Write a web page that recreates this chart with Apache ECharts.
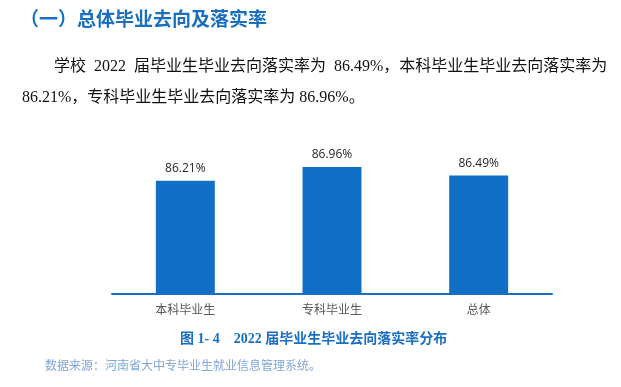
<!DOCTYPE html>
<html><head><meta charset="utf-8">
<script src="https://cdn.jsdelivr.net/npm/echarts@6/dist/echarts.min.js"></script>
<style>html,body{margin:0;padding:0;background:#fff}#c{width:621px;height:387px}</style>
</head><body><div id="c"></div>
<script>
const categories = ['本科毕业生', '专科毕业生', '总体'];
const rates = [86.21, 86.96, 86.49];
const titleText = '（一）总体毕业去向及落实率';
const paraLine1 = '学校  2022  届毕业生毕业去向落实率为  86.49%，本科毕业生毕业去向落实率为';
const paraLine2 = '86.21%，专科毕业生毕业去向落实率为 86.96%。';
const captionText = '图 1- 4    2022 届毕业生毕业去向落实率分布';
const sourceText = '数据来源：河南省大中专毕业生就业信息管理系统。';

const chart = echarts.init(document.getElementById('c'));
const serif = '"Liberation Serif", "Noto Sans CJK SC", serif';
chart.setOption({
  animation: false,
  grid: { left: 112, right: 69, top: 148, bottom: 93 },
  xAxis: {
    type: 'category', data: categories,
    axisLine: { lineStyle: { color: '#1a6fc4', width: 2 } },
    axisTick: { show: false },
    axisLabel: { color: '#595959', fontSize: 12, margin: 9, fontFamily: '"Noto Sans CJK SC", sans-serif' }
  },
  yAxis: { type: 'value', min: 80, max: 88, show: false, splitLine: { show: false } },
  series: [{
    type: 'bar', data: rates, barWidth: 59,
    itemStyle: { color: '#1170c6' },
    label: { show: true, position: 'top', distance: 6, color: '#262626', fontSize: 12,
      fontFamily: '"Open Sans", "Noto Sans", sans-serif',
      formatter: p => p.value.toFixed(2) + '%' }
  }],
  graphic: [
    { type: 'text', left: 20, top: 9, style: { text: titleText, fill: '#1a6fc0', font: 'bold 19px "Noto Sans CJK SC", sans-serif' } },
    { type: 'text', left: 54, top: 59, style: { text: paraLine1, fill: '#111', font: '16px ' + serif } },
    { type: 'text', left: 22, top: 90, style: { text: paraLine2, fill: '#111', font: '16px ' + serif } },
    { type: 'text', left: 180, top: 332, style: { text: captionText, fill: '#1a6fc0', font: 'bold 14px "Liberation Serif", "Noto Sans CJK SC", serif' } },
    { type: 'text', left: 45, top: 359, style: { text: sourceText, fill: '#7fa6d6', font: '12px "Noto Sans CJK SC", sans-serif' } }
  ]
});
</script></body></html>
